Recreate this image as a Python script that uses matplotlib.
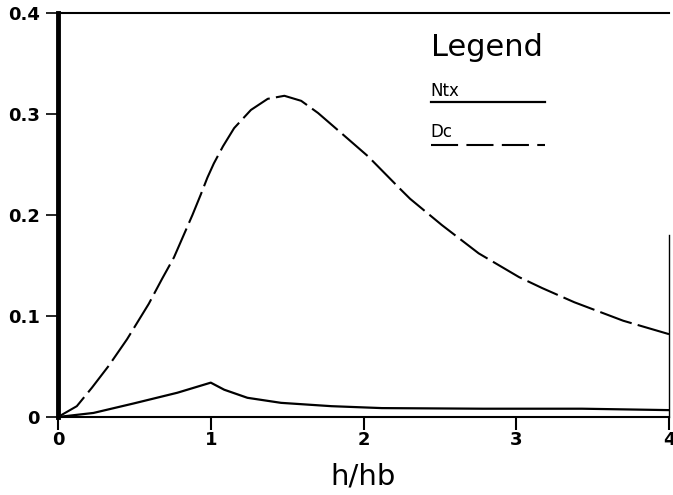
import matplotlib
matplotlib.use("Agg")
import matplotlib.pyplot as plt

# valeurs
x_dc = [0, 0.123, 0.222, 0.331, 0.452, 0.594, 0.682, 0.759, 0.88, 0.934,
        0.978, 1.02, 1.08, 1.153, 1.263, 1.373, 1.482, 1.592, 1.702, 1.855, 2.03,
        2.245, 2.305, 2.513, 2.754, 3.018, 3.17, 3.38, 3.70, 4.0]
y_dc = [0, 0.0107, 0.029, 0.0505, 0.077, 0.112, 0.137, 0.158, 0.200, 0.220,
        0.237, 0.251, 0.268, 0.286, 0.304, 0.315, 0.318, 0.313, 0.301, 0.281, 0.258,
        0.225, 0.216, 0.190, 0.162, 0.1385, 0.1276, 0.1136, 0.0953, 0.082]

x_ntx = [0, 0.232, 0.495, 0.781, 1.0, 1.088, 1.24, 1.46, 1.79, 2.12, 2.78, 3.43, 4.0]
y_ntx = [0, 0.004, 0.0134, 0.024, 0.034, 0.027, 0.019, 0.014, 0.0107, 0.0088,
         0.0082, 0.0082, 0.0068]

xticks = [0, 1, 2, 3, 4]
yticks = [0, 0.1, 0.2, 0.3, 0.4]
ytick_labels = ["0", "0.1", "0.2", "0.3", "0.4"]

fig = plt.figure(figsize=(6.73, 4.95), dpi=100)
ax = fig.add_axes([0.0862, 0.1576, 0.9079, 0.8162])

ax.plot(x_ntx, y_ntx, color="black", lw=1.6, solid_joinstyle="round")
ax.plot(x_dc, y_dc, color="black", lw=1.5, dashes=(16, 3), dash_joinstyle="round")

ax.set_xlim(0, 4)
ax.set_ylim(0, 0.4)
ax.set_xticks(xticks)
ax.set_xticklabels([str(v) for v in xticks], fontsize=13, fontweight="bold")
ax.set_yticks(yticks)
ax.set_yticklabels(ytick_labels, fontsize=13, fontweight="bold")
ax.tick_params(axis="y", direction="out", length=9, width=1.2, pad=4)
ax.tick_params(axis="x", direction="out", length=9, width=1.5, pad=1)

ax.spines["left"].set_linewidth(3.5)
ax.spines["top"].set_linewidth(1.5)
ax.spines["bottom"].set_linewidth(1.5)
ax.spines["right"].set_visible(False)
ax.axvline(4, ymin=0, ymax=0.45, color="black", lw=1.0, clip_on=False)

ax.set_xlabel("h/hb", fontsize=21, labelpad=10)

# legende faite a la main
ax.text(0.61, 0.915, "Legend", transform=ax.transAxes, fontsize=22, va="center")
ax.text(0.61, 0.806, "Ntx", transform=ax.transAxes, fontsize=12, va="center")
ax.plot([0.61, 0.797], [0.779, 0.779], transform=ax.transAxes, color="black", lw=1.6)
ax.text(0.61, 0.706, "Dc", transform=ax.transAxes, fontsize=12, va="center")
ax.plot([0.61, 0.797], [0.672, 0.672], transform=ax.transAxes, color="black",
        lw=1.5, dashes=(13, 4))

fig.savefig("out.png", dpi=100)
